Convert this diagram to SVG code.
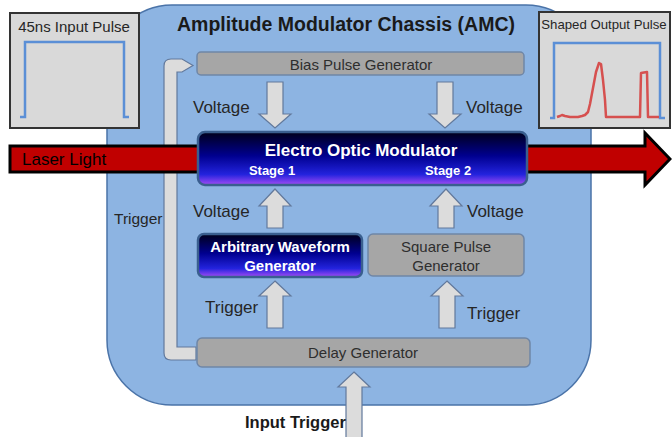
<svg xmlns="http://www.w3.org/2000/svg" width="672" height="437" viewBox="0 0 672 437">
  <defs>
    <linearGradient id="eomGrad" x1="0" y1="0" x2="0" y2="1">
      <stop offset="0" stop-color="#00001a"/>
      <stop offset="0.45" stop-color="#00008f"/>
      <stop offset="0.8" stop-color="#2323dd"/>
      <stop offset="1" stop-color="#a44cf5"/>
    </linearGradient>
    <style>
      text { font-family: "Liberation Sans", Arial, sans-serif; fill: #262626; }
      .chassis { fill: #8db4e2; stroke: #4a73a8; stroke-width: 1.5; }
      .panel { fill: #d9d9d9; stroke: #333333; stroke-width: 2; }
      .grayBox { fill: #a6a6a6; stroke: #6f86a6; stroke-width: 1.5; }
      .gradBox { fill: url(#eomGrad); stroke: #3a5f8f; stroke-width: 2.5; }
      .flow { fill: #dcdcdc; stroke: #62799c; stroke-width: 1.2; stroke-linejoin: miter; }
      .laser { fill: #c00000; stroke: #000000; stroke-width: 3; stroke-linejoin: miter; }
      .lbl { font-size: 17px; }
      .boxTxt { font-size: 15px; fill: #2e2e2e; text-anchor: middle; }
      .whiteB { fill: #ffffff; font-weight: bold; text-anchor: middle; }
      .pulseBlue { fill: none; stroke: #5b8fd6; stroke-width: 2.5; }
      .pulseRed { fill: none; stroke: #d6504f; stroke-width: 2.5; stroke-linejoin: round; }
    </style>
  </defs>

  <g id="chassis">
    <rect class="chassis" x="107" y="5" width="484" height="400" rx="65" ry="65"/>
    <text x="346" y="31" text-anchor="middle" font-size="19.5" font-weight="bold" style="fill:#1a1a1a">Amplitude Modulator Chassis (AMC)</text>
  </g>

  <g id="input-pulse">
    <rect class="panel" x="10" y="13" width="129" height="115"/>
    <text x="74" y="32" text-anchor="middle" font-size="15">45ns Input Pulse</text>
    <polyline class="pulseBlue" points="20,117 25,117 25,42 124,42 124,117 129,117"/>
  </g>

  <g id="output-pulse">
    <rect class="panel" x="539" y="12" width="131" height="116"/>
    <text x="604" y="29" text-anchor="middle" font-size="13.2">Shaped Output Pulse</text>
    <polyline class="pulseBlue" points="550,118 554,118 554,43 660,43 660,118 665,118"/>
    <polyline class="pulseRed" points="557,117 560,116 562,115 565,116 570,117 578,117 582,116 585,115 588,112 590,104 593,88 596,72 599,63 601,64 603,80 605,100 606,117 614,117 640,117 641,73 647,72 648,117 659,117"/>
  </g>

  <g id="connectors">
    <path id="trigger-loop" class="flow" d="M196,347 L177,347 L177,72 L182,72 L193,65.5 L182,59 L171,59 Q164,59 164,66 L164,353 Q164,360 171,360 L196,360 Z"/>
    <path id="laser-light" class="laser" d="M10,146 L645,146 L645,133 L670,159 L645,185 L645,172 L10,172 Z"/>
    <path class="flow" d="M267,82 L283,82 L283,114 L291,114 L275,128 L259,114 L267,114 Z"/>
    <path class="flow" d="M437,82 L453,82 L453,114 L461,114 L445,128 L429,114 L437,114 Z"/>
    <path class="flow" d="M275,189 L291,206 L283,206 L283,228 L267,228 L267,206 L259,206 Z"/>
    <path class="flow" d="M446,189 L462,206 L454,206 L454,228 L438,228 L438,206 L430,206 Z"/>
    <path class="flow" d="M275,281 L291,296 L283,296 L283,328 L267,328 L267,296 L259,296 Z"/>
    <path class="flow" d="M447,281 L463,296 L455,296 L455,328 L439,328 L439,296 L431,296 Z"/>
    <path id="input-trigger-arrow" class="flow" d="M354,372 L370,387 L362,387 L362,438 L346,438 L346,387 L338,387 Z"/>
    <text class="lbl" x="22" y="165" style="fill:#000000">Laser Light</text>
    <text x="114" y="224" font-size="15.5">Trigger</text>
    <text class="lbl" x="193" y="113">Voltage</text>
    <text class="lbl" x="466" y="113">Voltage</text>
    <text class="lbl" x="193" y="217">Voltage</text>
    <text class="lbl" x="467" y="217">Voltage</text>
    <text class="lbl" x="205" y="313">Trigger</text>
    <text class="lbl" x="467" y="319">Trigger</text>
    <text x="245" y="428" font-size="16.5" font-weight="bold" style="fill:#1a1a1a">Input Trigger</text>
  </g>

  <g id="bias-pulse-generator">
    <rect class="grayBox" x="197" y="52" width="327" height="23" rx="4"/>
    <text class="boxTxt" x="361" y="70" font-size="16">Bias Pulse Generator</text>
  </g>

  <g id="electro-optic-modulator">
    <rect class="gradBox" x="198" y="132" width="329" height="53" rx="7"/>
    <text class="whiteB" x="361" y="156" font-size="17">Electro Optic Modulator</text>
    <text class="whiteB" x="272" y="175" font-size="13">Stage 1</text>
    <text class="whiteB" x="448" y="175" font-size="13">Stage 2</text>
  </g>

  <g id="arbitrary-waveform-generator">
    <rect class="gradBox" x="198" y="234" width="164" height="43" rx="6"/>
    <text class="whiteB" x="280" y="252" font-size="15">Arbitrary Waveform</text>
    <text class="whiteB" x="280" y="271" font-size="15">Generator</text>
  </g>

  <g id="square-pulse-generator">
    <rect class="grayBox" x="368" y="234" width="156" height="42" rx="5"/>
    <text class="boxTxt" x="446" y="252">Square Pulse</text>
    <text class="boxTxt" x="446" y="271">Generator</text>
  </g>

  <g id="delay-generator">
    <rect class="grayBox" x="197" y="338" width="333" height="29" rx="5"/>
    <text class="boxTxt" x="363" y="358">Delay Generator</text>
  </g>
</svg>
